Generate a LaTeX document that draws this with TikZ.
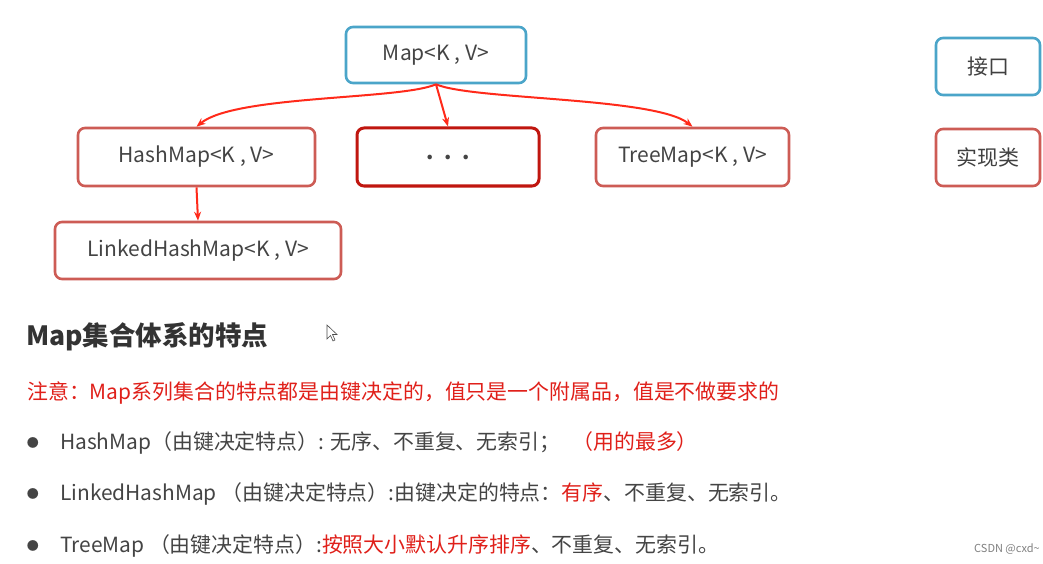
\documentclass[tikz,border=0pt]{standalone}
\usepackage{fontspec}
\setmainfont{Noto Sans CJK SC}
\usetikzlibrary{arrows.meta}
\definecolor{ifblue}{HTML}{4BA5C9}
\definecolor{implred}{HTML}{CD5C55}
\definecolor{darkred}{HTML}{C0160F}
\definecolor{arrred}{HTML}{FF2A1A}
\definecolor{txtgray}{HTML}{444444}
\definecolor{notered}{HTML}{E0201A}
\begin{document}
\begin{tikzpicture}[x=1pt,y=-1pt,
  box/.style={draw, line width=2.6pt, rounded corners=7pt, fill=white,
    font=\fontsize{21}{24}\selectfont, text=txtgray, inner sep=0pt},
  ifbox/.style={box, draw=ifblue},
  imbox/.style={box, draw=implred},
  conn/.style={draw=arrred, line width=2pt, -{Stealth[length=9pt,width=7pt]}},
  body/.style={anchor=west, inner sep=0pt, font=\fontsize{20.9}{24}\selectfont, text=txtgray},
  dot/.style={anchor=center, inner sep=0pt, font=\fontsize{12}{13}\selectfont, text=txtgray}
]
\useasboundingbox (0,0) rectangle (1043,564);
\fill[white] (0,0) rectangle (1043,564);

\node[ifbox, minimum width=180pt, minimum height=56pt] (map) at (436,55) {Map<K , V>};
\node[imbox, minimum width=237pt, minimum height=58pt] (hash) at (196.5,157) {HashMap<K , V>};
\node[box, draw=darkred, line width=3pt, minimum width=182pt, minimum height=58pt] (etc) at (448,157) {\textbf{.\,\,\,.\,\,\,.}};
\node[imbox, minimum width=193pt, minimum height=58pt] (tree) at (692.5,157) {TreeMap<K , V>};
\node[imbox, minimum width=286pt, minimum height=57pt] (linked) at (198,250.5) {LinkedHashMap<K , V>};

\node[ifbox, minimum width=104pt, minimum height=57pt, text=black!75] (lgif) at (988,66.5) {接口};
\node[imbox, minimum width=104pt, minimum height=57pt, text=black!75] (lgim) at (988,157.5) {实现类};

\draw[conn] (map.south) .. controls (400,100) and (235,95) .. (hash.north);
\draw[conn] (map.south) -- (etc.north);
\draw[conn] (map.south) .. controls (472,100) and (655,97) .. (tree.north);
\draw[conn] (hash.south) -- (linked.north);

\node[body, font=\fontsize{26.5}{30}\selectfont\bfseries, text=black!80] (title) at (26,337) {Map集合体系的特点};

\draw[black!70, fill=white, line width=0.6pt] (327,325) -- (327,339) -- (330.5,335.5) -- (333,341) -- (335,340) -- (332.5,334.5) -- (337,334.5) -- cycle;

\node[body, text=notered] (note) at (27,393) {注意：Map系列集合的特点都是由键决定的，值只是一个附属品，值是不做要求的};

\node[dot] (b1) at (33,443) {●};
\node[body] (l1) at (60,443) {HashMap（由键决定特点）: 无序、不重复、无索引；\hspace{12pt}\textcolor{notered}{（用的最多）}};
\node[dot] (b2) at (33,494) {●};
\node[body] (l2) at (60,494) {LinkedHashMap （由键决定特点）:由键决定的特点：\textcolor{notered}{有序}、不重复、无索引。};
\node[dot] (b3) at (33,546) {●};
\node[body] (l3) at (60,546) {TreeMap （由键决定特点）:\textcolor{notered}{按照大小默认升序排序}、不重复、无索引。};

\node[anchor=center, inner sep=0pt, font=\fontsize{11}{12}\selectfont, text=black!50] (wm) at (1007,549) {CSDN @cxd\textasciitilde};
\end{tikzpicture}
\end{document}
